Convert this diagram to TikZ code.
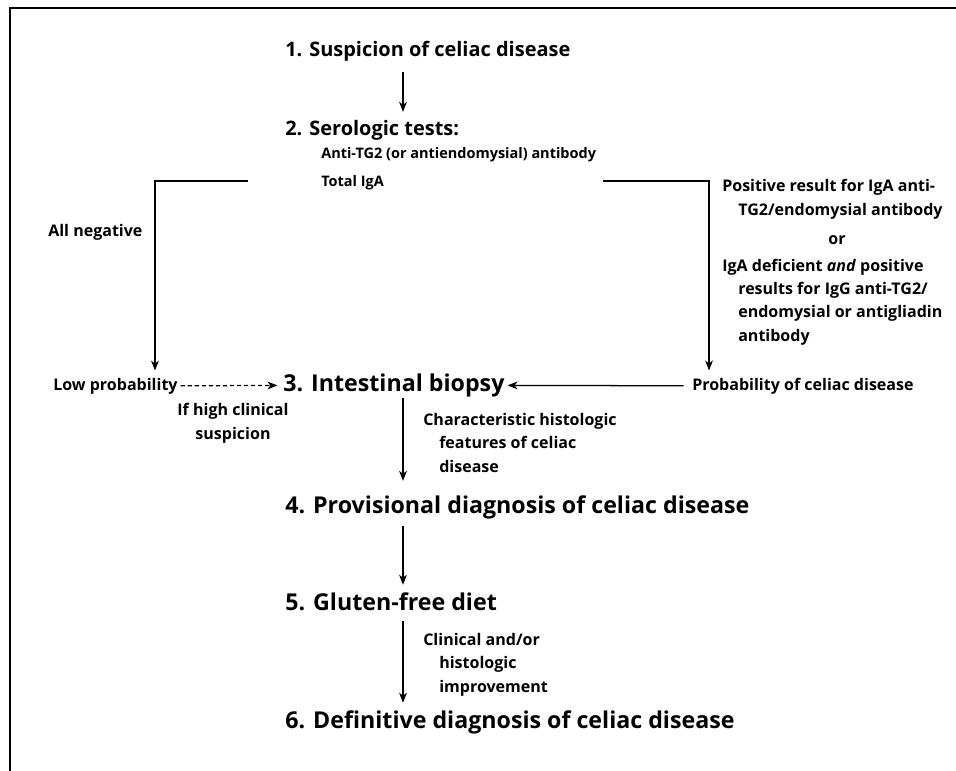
\documentclass[tikz,border=0pt]{standalone}
\usepackage{fontspec}
\setmainfont{Open Sans}
\usetikzlibrary{arrows.meta,positioning,calc}

\begin{document}
\begin{tikzpicture}[x=0.025cm,y=-0.025cm,
  stage/.style={anchor=base west, inner sep=0pt, text height=11pt, text depth=3pt,
    font=\fontsize{16.5}{19}\selectfont\bfseries},
  top stage/.style={stage, font=\fontsize{14.2}{16}\selectfont\bfseries},
  note/.style={anchor=base west, inner sep=0pt, align=left,
    font=\fontsize{11.4}{16.4}\selectfont\bfseries},
  test/.style={note, font=\fontsize{10.3}{16.4}\selectfont\bfseries},
  flow/.style={line width=0.9pt, -{Stealth[length=7pt,width=5.5pt,inset=2pt]}}]
\useasboundingbox (0,0) rectangle (956,771);
\draw[line width=1.4pt] (10,771) -- (10,8) -- (956,8);

% main column
\node[top stage] (s1) at (285,56) {1. Suspicion of celiac disease};
\node[top stage] (s2) at (285,135) {2. Serologic tests:};
\node[test] (anti) at (321,158) {Anti-TG2 (or antiendomysial) antibody};
\node[test] (tot) at (321,186) {Total IgA};
\node[stage] (s3) at (283,391) {3. Intestinal biopsy};
\node[stage] (s4) at (285,513) {4. Provisional diagnosis of celiac disease};
\node[stage] (s5) at (285,610) {5. Gluten-free diet};
\node[stage] (s6) at (285,728) {6. Definitive diagnosis of celiac disease};
\coordinate (ax) at (403,0);

% side notes (base = last line)
\node[note] (neg) at (48,236) {All negative};
\node[note] (low) at (53,390) {Low probability};
\node[note, align=center, anchor=base] (high) at (233,439) {If high clinical\\suspicion};
\node[note] (pos) at (722,215) {Positive result for IgA anti-\\\hspace*{0.4cm}TG2/endomysial antibody};
\node[note, anchor=base] (or) at (837,244) {or};
\node[note] (def) at (722,341) {IgA deficient \textit{and} positive\\\hspace*{0.4cm}results for IgG anti-TG2/\\\hspace*{0.4cm}endomysial or antigliadin\\\hspace*{0.4cm}antibody};
\node[note] (prob) at (692,390) {Probability of celiac disease};
\node[note] (hist) at (423,472) {Characteristic histologic\\\hspace*{0.4cm}features of celiac\\\hspace*{0.4cm}disease};
\node[note] (impr) at (423,692) {Clinical and/or\\\hspace*{0.4cm}histologic\\\hspace*{0.4cm}improvement};

\coordinate (lb) at (248,181);
\coordinate (rb) at (603,181);

\draw[flow, shorten <=8.4pt, shorten >=5.3pt] (s1.south -| ax) -- (s2.north -| ax);
\draw[flow, shorten >=5pt] (lb) -| ($(low.north west)+(102,0)$);
\draw[flow, shorten >=5pt] (rb) -| ($(prob.north west)+(17,0)$);
\draw[flow, dash pattern=on 3pt off 2pt, shorten <=2pt, shorten >=4pt] (low.east) -- (s3.west);
\draw[flow, shorten <=6pt, shorten >=2pt] (prob.west) -- (s3.east);
\draw[flow, shorten <=2pt, shorten >=11.7pt] (s3.south -| ax) -- (s4.north -| ax);
\draw[flow, shorten <=5.7pt, shorten >=6.8pt] (s4.south -| ax) -- (s5.north -| ax);
\draw[flow, shorten <=4.3pt, shorten >=6.8pt] (s5.south -| ax) -- (s6.north -| ax);
\end{tikzpicture}
\end{document}
